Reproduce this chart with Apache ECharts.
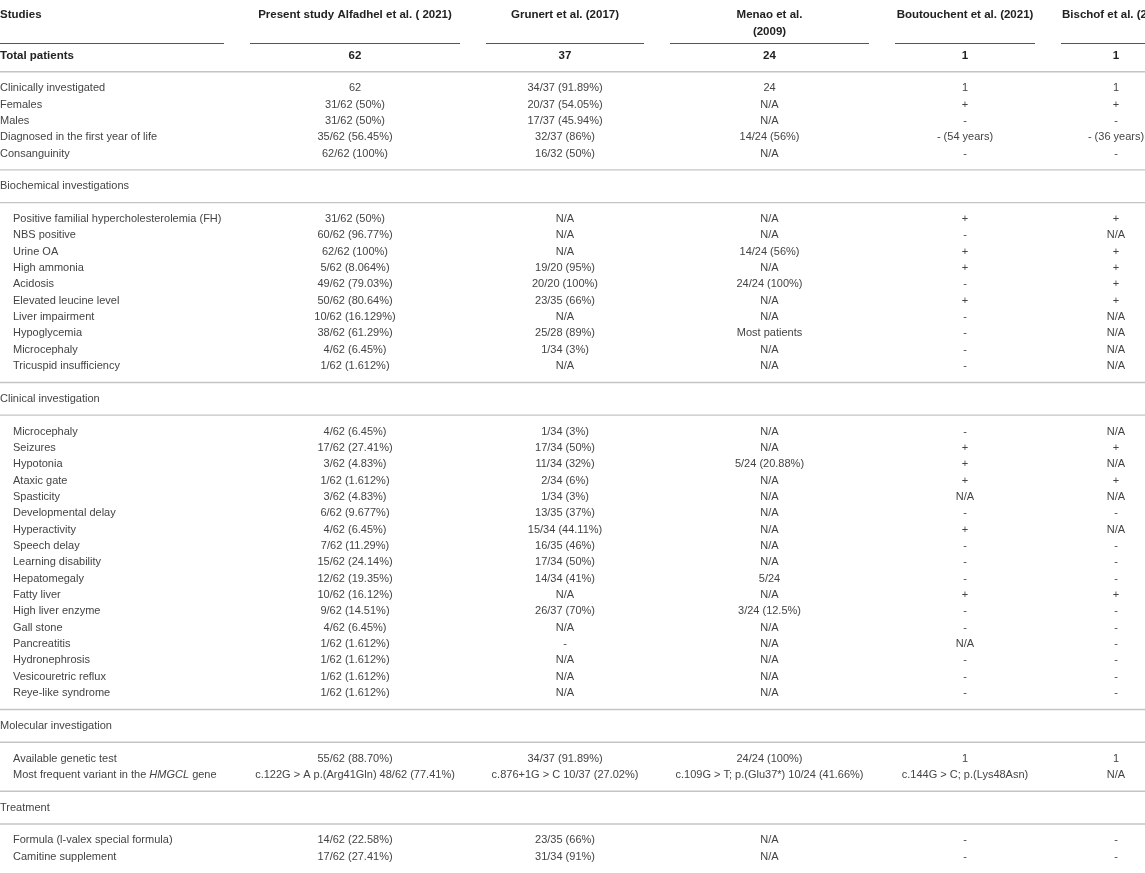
<!DOCTYPE html>
<html>
<head>
    <meta charset="utf-8">
    <title>HMGCL deficiency - comparison of studies</title>
    <script src="https://cdn.jsdelivr.net/npm/echarts@6/dist/echarts.min.js"></script>
    <style>
        html, body { margin: 0; padding: 0; background: #fff; }
    </style>
</head>
<body>
<div id="main" style="width: 1145px;height:873px;"></div>
<script type="text/javascript">
    // table content
    var studies = ['Present study Alfadhel et al. ( 2021)', 'Grunert et al. (2017)', 'Menao et al.\n(2009)', 'Boutouchent et al. (2021)', 'Bischof et al. (2004)'];
    var totals = ['62', '37', '24', '1', '1'];

    var generalRows = [
        ['Clinically investigated', '62', '34/37 (91.89%)', '24', '1', '1'],
        ['Females', '31/62 (50%)', '20/37 (54.05%)', 'N/A', '+', '+'],
        ['Males', '31/62 (50%)', '17/37 (45.94%)', 'N/A', '-', '-'],
        ['Diagnosed in the first year of life', '35/62 (56.45%)', '32/37 (86%)', '14/24 (56%)', '- (54 years)', '- (36 years)'],
        ['Consanguinity', '62/62 (100%)', '16/32 (50%)', 'N/A', '-', '-']
    ];
    var biochemRows = [
        ['Positive familial hypercholesterolemia (FH)', '31/62 (50%)', 'N/A', 'N/A', '+', '+'],
        ['NBS positive', '60/62 (96.77%)', 'N/A', 'N/A', '-', 'N/A'],
        ['Urine OA', '62/62 (100%)', 'N/A', '14/24 (56%)', '+', '+'],
        ['High ammonia', '5/62 (8.064%)', '19/20 (95%)', 'N/A', '+', '+'],
        ['Acidosis', '49/62 (79.03%)', '20/20 (100%)', '24/24 (100%)', '-', '+'],
        ['Elevated leucine level', '50/62 (80.64%)', '23/35 (66%)', 'N/A', '+', '+'],
        ['Liver impairment', '10/62 (16.129%)', 'N/A', 'N/A', '-', 'N/A'],
        ['Hypoglycemia', '38/62 (61.29%)', '25/28 (89%)', 'Most patients', '-', 'N/A'],
        ['Microcephaly', '4/62 (6.45%)', '1/34 (3%)', 'N/A', '-', 'N/A'],
        ['Tricuspid insufficiency', '1/62 (1.612%)', 'N/A', 'N/A', '-', 'N/A']
    ];
    var clinicalRows = [
        ['Microcephaly', '4/62 (6.45%)', '1/34 (3%)', 'N/A', '-', 'N/A'],
        ['Seizures', '17/62 (27.41%)', '17/34 (50%)', 'N/A', '+', '+'],
        ['Hypotonia', '3/62 (4.83%)', '11/34 (32%)', '5/24 (20.88%)', '+', 'N/A'],
        ['Ataxic gate', '1/62 (1.612%)', '2/34 (6%)', 'N/A', '+', '+'],
        ['Spasticity', '3/62 (4.83%)', '1/34 (3%)', 'N/A', 'N/A', 'N/A'],
        ['Developmental delay', '6/62 (9.677%)', '13/35 (37%)', 'N/A', '-', '-'],
        ['Hyperactivity', '4/62 (6.45%)', '15/34 (44.11%)', 'N/A', '+', 'N/A'],
        ['Speech delay', '7/62 (11.29%)', '16/35 (46%)', 'N/A', '-', '-'],
        ['Learning disability', '15/62 (24.14%)', '17/34 (50%)', 'N/A', '-', '-'],
        ['Hepatomegaly', '12/62 (19.35%)', '14/34 (41%)', '5/24', '-', '-'],
        ['Fatty liver', '10/62 (16.12%)', 'N/A', 'N/A', '+', '+'],
        ['High liver enzyme', '9/62 (14.51%)', '26/37 (70%)', '3/24 (12.5%)', '-', '-'],
        ['Gall stone', '4/62 (6.45%)', 'N/A', 'N/A', '-', '-'],
        ['Pancreatitis', '1/62 (1.612%)', '-', 'N/A', 'N/A', '-'],
        ['Hydronephrosis', '1/62 (1.612%)', 'N/A', 'N/A', '-', '-'],
        ['Vesicouretric reflux', '1/62 (1.612%)', 'N/A', 'N/A', '-', '-'],
        ['Reye-like syndrome', '1/62 (1.612%)', 'N/A', 'N/A', '-', '-']
    ];
    var molecularRows = [
        ['Available genetic test', '55/62 (88.70%)', '34/37 (91.89%)', '24/24 (100%)', '1', '1'],
        ['Most frequent variant in the {i|HMGCL} gene', 'c.122G > A p.(Arg41Gln) 48/62 (77.41%)', 'c.876+1G > C 10/37 (27.02%)', 'c.109G > T; p.(Glu37*) 10/24 (41.66%)', 'c.144G > C; p.(Lys48Asn)', 'N/A']
    ];
    var treatmentRows = [
        ['Formula (l-valex special formula)', '14/62 (22.58%)', '23/35 (66%)', 'N/A', '-', '-'],
        ['Camitine supplement', '17/62 (27.41%)', '31/34 (91%)', 'N/A', '-', '-']
    ];

    var sections = [
        {title: null, rows: generalRows},
        {title: 'Biochemical investigations', rows: biochemRows},
        {title: 'Clinical investigation', rows: clinicalRows},
        {title: 'Molecular investigation', rows: molecularRows},
        {title: 'Treatment', rows: treatmentRows}
    ];

    // table layout: column edges (axis units = px), header slots
    var colEdges = [0, 237, 473, 657, 882, 1048, 1184];
    var cellPad = 13;
    var headSlot = -4.47, headRuleSlot = -2.73, totalSlot = -2;
    var font = '"Liberation Sans", Arial, Helvetica, sans-serif';
    var bodyColor = '#444';
    var headColor = '#222';

    function colCenter(c) {
        return (colEdges[c] + colEdges[c + 1]) / 2;
    }

    // build cells and rules
    var cells = [];
    var rules = [];

    cells.push({x: colEdges[0], y: headSlot, text: 'Studies', align: 'left', bold: true});
    studies.forEach(function (s, i) {
        s.split('\n').forEach(function (line, k) {
            cells.push({x: colCenter(i + 1), y: headSlot + k, text: line, align: 'center', bold: true});
        });
    });
    for (var c = 0; c < 6; c++) {
        var x0 = c === 0 ? colEdges[0] : colEdges[c] + cellPad;
        rules.push({value: [x0, colEdges[c + 1] - cellPad, headRuleSlot], head: true});
    }
    cells.push({x: colEdges[0], y: totalSlot, text: 'Total patients', align: 'left', bold: true});
    totals.forEach(function (t, i) {
        cells.push({x: colCenter(i + 1), y: totalSlot, text: t, align: 'center', bold: true});
    });
    rules.push({value: [colEdges[0], colEdges[6], totalSlot + 1]});

    var slot = 0;
    sections.forEach(function (sec) {
        if (sec.title) {
            cells.push({x: colEdges[0], y: slot, text: sec.title, align: 'left'});
            slot++;
            rules.push({value: [colEdges[0], colEdges[6], slot]});
            slot++;
        }
        sec.rows.forEach(function (row) {
            cells.push({x: colEdges[0] + (sec.title ? cellPad : 0), y: slot, text: row[0], align: 'left'});
            for (var i = 1; i < row.length; i++) {
                cells.push({x: colCenter(i), y: slot, text: row[i], align: 'center'});
            }
            slot++;
        });
        if (slot < 47) {
            rules.push({value: [colEdges[0], colEdges[6], slot]});
            slot++;
        }
    });

    var myChart = echarts.init(document.getElementById('main'));

    var option = {
        animation: false,
        backgroundColor: '#fff',
        grid: {left: 0, right: 0, top: 6.4, bottom: -1.6},
        xAxis: {type: 'value', min: 0, max: 1145, show: false},
        yAxis: {type: 'value', min: -5, max: 48, inverse: true, show: false},
        series: [
            {
                type: 'custom',
                silent: true,
                data: rules.map(function (r) { return r.value; }),
                encode: {x: [0, 1], y: 2},
                renderItem: function (params, api) {
                    var r = rules[params.dataIndex];
                    var p0 = api.coord([api.value(0), api.value(2)]);
                    var p1 = api.coord([api.value(1), api.value(2)]);
                    return {
                        type: 'line',
                        shape: {x1: p0[0], y1: p0[1], x2: p1[0], y2: p1[1]},
                        style: r.head ? {stroke: '#555', lineWidth: 1.2} : {stroke: '#c4c4c4', lineWidth: 1.4}
                    };
                }
            },
            {
                type: 'custom',
                silent: true,
                data: cells.map(function (d) { return [d.x, d.y]; }),
                renderItem: function (params, api) {
                    var d = cells[params.dataIndex];
                    var p = api.coord([api.value(0), api.value(1)]);
                    return {
                        type: 'text',
                        style: {
                            text: d.text,
                            x: p[0],
                            y: p[1],
                            align: d.align,
                            verticalAlign: 'middle',
                            fontFamily: font,
                            fontSize: d.bold ? 11.5 : 11,
                            fontWeight: d.bold ? 'bold' : 'normal',
                            fill: d.bold ? headColor : bodyColor,
                            rich: {
                                i: {fontStyle: 'italic', fontFamily: font, fontSize: 11, fill: bodyColor}
                            }
                        }
                    };
                }
            }
        ]
    };

    myChart.setOption(option);
</script>
</body>
</html>
